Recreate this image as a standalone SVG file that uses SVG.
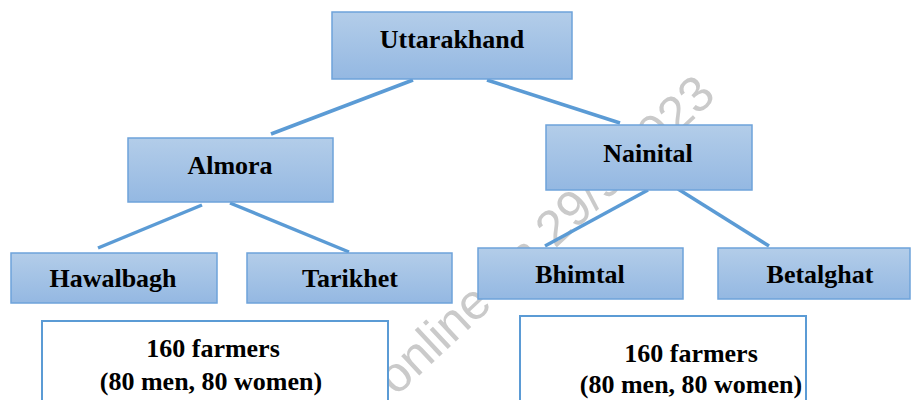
<svg xmlns="http://www.w3.org/2000/svg" width="912" height="400" viewBox="0 0 912 400">
<defs>
<linearGradient id="g" x1="0" y1="0" x2="0" y2="1">
<stop offset="0" stop-color="#b3cde9"/>
<stop offset="1" stop-color="#94b8e2"/>
</linearGradient>
<style>
.n{fill:url(#g);stroke:#6ea3da;stroke-width:1.5}
.b{fill:#fff;stroke:#5b9bd5;stroke-width:2}
.t{font-family:"Liberation Serif","Times New Roman",serif;font-weight:bold;font-size:26px;fill:#000;text-anchor:middle}
.c line{stroke:#5b9bd5;stroke-width:3.5}
.wm{font-family:"Liberation Sans",Arial,sans-serif;font-size:50px;fill:#cacaca;text-anchor:middle}
</style>
</defs>
<rect width="912" height="400" fill="#fff"/>
<text class="wm" transform="translate(557,247) rotate(-43)">online on 29/9/2023</text>
<g id="connectors" class="c">
<line x1="413" y1="80" x2="271" y2="134"/>
<line x1="487" y1="80" x2="620" y2="123"/>
<line x1="202" y1="205" x2="98" y2="248"/>
<line x1="230" y1="203" x2="349" y2="252"/>
<line x1="648" y1="190" x2="545" y2="246"/>
<line x1="678" y1="189" x2="769" y2="246"/>
</g>
<g id="uttarakhand"><rect class="n" x="332" y="12" width="240" height="67"/><text class="t" x="452" y="48">Uttarakhand</text></g>
<g id="almora"><rect class="n" x="128" y="138" width="205" height="64"/><text class="t" x="230" y="174">Almora</text></g>
<g id="nainital"><rect class="n" x="546" y="125" width="206" height="65"/><text class="t" x="648" y="162">Nainital</text></g>
<g id="hawalbagh"><rect class="n" x="11" y="253" width="206" height="50"/><text class="t" x="113" y="287">Hawalbagh</text></g>
<g id="tarikhet"><rect class="n" x="247" y="253" width="205" height="50"/><text class="t" x="350" y="287">Tarikhet</text></g>
<g id="bhimtal"><rect class="n" x="478" y="248" width="205" height="51"/><text class="t" x="580" y="283">Bhimtal</text></g>
<g id="betalghat"><rect class="n" x="718" y="248" width="192" height="51"/><text class="t" x="820" y="283">Betalghat</text></g>
<g id="farmers-left"><rect class="b" x="42" y="321" width="346" height="100"/><text class="t" x="213" y="357">160 farmers</text><text class="t" x="211" y="390">(80 men, 80 women)</text></g>
<g id="farmers-right"><rect class="b" x="520" y="316" width="286" height="100"/><text class="t" x="691" y="362">160 farmers</text><text class="t" x="691" y="393">(80 men, 80 women)</text></g>
</svg>
